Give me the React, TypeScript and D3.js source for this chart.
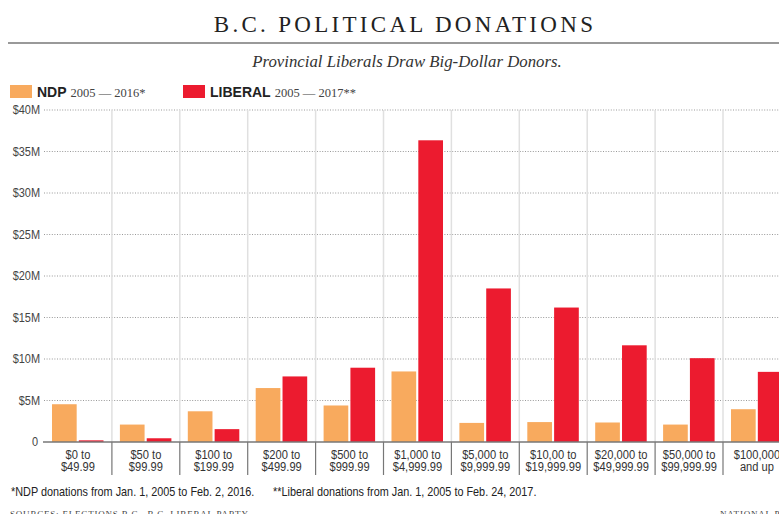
import { useEffect, useRef } from 'react';
import * as d3 from 'd3';

const categories = [
  ['$0 to', '$49.99'],
  ['$50 to', '$99.99'],
  ['$100 to', '$199.99'],
  ['$200 to', '$499.99'],
  ['$500 to', '$999.99'],
  ['$1,000 to', '$4,999.99'],
  ['$5,000 to', '$9,999.99'],
  ['$10,00 to', '$19,999.99'],
  ['$20,000 to', '$49,999.99'],
  ['$50,000 to', '$99,999.99'],
  ['$100,000', 'and up'],
];

// millions of dollars
const ndpValues = [4.55, 2.1, 3.7, 6.5, 4.4, 8.5, 2.3, 2.4, 2.35, 2.1, 3.95];
const liberalValues = [0.2, 0.45, 1.55, 7.9, 8.95, 36.35, 18.5, 16.2, 11.65, 10.1, 8.45];

const yTicks = [0, 5, 10, 15, 20, 25, 30, 35, 40];
const seriesKeys = ['ndp', 'liberal'];

const NDP_COLOR = '#f8aa5e';
const LIB_COLOR = '#ec1b2f';
const SANS = '"Liberation Sans", Arimo, sans-serif';
const SERIF = '"Liberation Serif", "DejaVu Serif", serif';
const NARROW = 0.89; // horizontal squeeze to mimic the condensed face

const Chart = () => {
  const svgRef = useRef<SVGSVGElement>(null);

  useEffect(() => {
    if (!svgRef.current) return;
    const width = 779;
    const height = 514;
    const left = 44;
    const step = 67.9;
    const top = 110;
    const bottom = 442;

    const svg = d3.select(svgRef.current);
    svg.selectAll('*').remove();
    svg.attr('width', width).attr('height', height);

    // condensed sans text placed at (x, y)
    const narrowText = (parent: any, x: number, y: number, txt: string, anchor = 'start', size = 12) =>
      parent.append('text')
        .attr('transform', `translate(${x},${y}) scale(${NARROW},1)`)
        .attr('text-anchor', anchor)
        .attr('font-family', SANS).attr('font-size', size)
        .attr('fill', '#333')
        .text(txt);

    const idx = categories.map((_, i) => String(i));
    const x0 = d3.scaleBand().domain(idx).range([left, left + step * categories.length]).padding(0);
    const x1 = d3.scaleBand().domain(seriesKeys).range([8, 59.5]).paddingInner(0.08);
    const y = d3.scaleLinear().domain([0, 40]).range([bottom, top]);

    // title
    svg.append('text')
      .attr('x', 405).attr('y', 32)
      .attr('text-anchor', 'middle')
      .attr('font-family', SERIF).attr('font-size', 23)
      .attr('letter-spacing', 3.3)
      .attr('fill', '#222')
      .text('B.C. POLITICAL DONATIONS');
    svg.append('line')
      .attr('x1', 8).attr('x2', width).attr('y1', 43).attr('y2', 43)
      .attr('stroke', '#999').attr('stroke-width', 2);

    svg.append('text')
      .attr('x', 407).attr('y', 67)
      .attr('text-anchor', 'middle')
      .attr('font-family', SERIF).attr('font-style', 'italic').attr('font-size', 16.8)
      .attr('fill', '#333')
      .text('Provincial Liberals Draw Big-Dollar Donors.');

    // legend
    const legend = [
      { x: 10, color: NDP_COLOR, name: 'NDP', range: '2005 — 2016*' },
      { x: 183, color: LIB_COLOR, name: 'LIBERAL', range: '2005 — 2017**' },
    ];
    legend.forEach(l => {
      svg.append('rect').attr('x', l.x).attr('y', 85).attr('width', 22).attr('height', 13).attr('fill', l.color);
      const t = svg.append('text').attr('x', l.x + 27).attr('y', 97).attr('fill', '#222');
      t.append('tspan').attr('font-family', SANS).attr('font-weight', 'bold').attr('font-size', 14).text(l.name);
      t.append('tspan').attr('font-family', SERIF).attr('font-size', 12.5).attr('dx', 4).attr('fill', '#444').text(l.range);
    });

    // horizontal grid + y labels
    const g = svg.append('g');
    yTicks.forEach(v => {
      if (v > 0) {
        g.append('line')
          .attr('x1', left).attr('x2', width)
          .attr('y1', y(v)).attr('y2', y(v))
          .attr('stroke', '#999').attr('stroke-width', 1)
          .attr('stroke-dasharray', '1,1.6');
      }
      narrowText(g, v === 0 ? 38 : 40, y(v) + 4.3, v === 0 ? '0' : `$${v}M`, 'end', 12.3)
        .attr('fill', '#444');
    });

    // vertical separators
    idx.slice(1).forEach(d => {
      const xv = x0(d)!;
      g.append('line').attr('x1', xv).attr('x2', xv).attr('y1', top).attr('y2', bottom)
        .attr('stroke', '#e0e0e0').attr('stroke-width', 1.5);
      g.append('line').attr('x1', xv).attr('x2', xv).attr('y1', bottom).attr('y2', 475)
        .attr('stroke', '#777').attr('stroke-width', 1.2);
    });

    // bars
    const groups = svg.append('g').selectAll('g')
      .data(idx)
      .join('g')
      .attr('transform', d => `translate(${x0(d)},0)`);

    groups.selectAll('rect')
      .data(d => {
        const i = +d;
        return [
          { key: 'ndp', value: ndpValues[i] },
          { key: 'liberal', value: liberalValues[i] },
        ];
      })
      .join('rect')
      .attr('x', d => x1(d.key)!)
      .attr('y', d => y(d.value))
      .attr('width', x1.bandwidth())
      .attr('height', d => y(0) - y(d.value))
      .attr('fill', d => (d.key === 'ndp' ? NDP_COLOR : LIB_COLOR));

    // baseline
    svg.append('line')
      .attr('x1', 43).attr('x2', width).attr('y1', bottom).attr('y2', bottom)
      .attr('stroke', '#777').attr('stroke-width', 1.5);

    // category labels
    groups.each(function (d) {
      const c = categories[+d];
      const sel = d3.select(this);
      narrowText(sel, step / 2, 458.5, c[0], 'middle', 12.5);
      narrowText(sel, step / 2, 470.5, c[1], 'middle', 12.5);
    });

    // notes
    narrowText(svg, 11, 496, '*NDP donations from Jan. 1, 2005 to Feb. 2, 2016.', 'start', 12.2).attr('fill', '#222');
    narrowText(svg, 273, 496, '**Liberal donations from Jan. 1, 2005 to Feb. 24, 2017.', 'start', 12.2).attr('fill', '#222');
    svg.append('text').attr('x', 10).attr('y', 517)
      .attr('font-family', SERIF).attr('font-size', 9).attr('letter-spacing', 0.8).attr('fill', '#444')
      .text('SOURCES: ELECTIONS B.C., B.C. LIBERAL PARTY');
    svg.append('text').attr('x', 720).attr('y', 517)
      .attr('font-family', SERIF).attr('font-size', 9).attr('letter-spacing', 0.8).attr('fill', '#444')
      .text('NATIONAL POST');
  }, []);

  return <svg ref={svgRef} style={{ position: 'absolute', left: 0, top: 0, background: '#fff' }}></svg>;
};

export default function App() {
  return <Chart />;
}
